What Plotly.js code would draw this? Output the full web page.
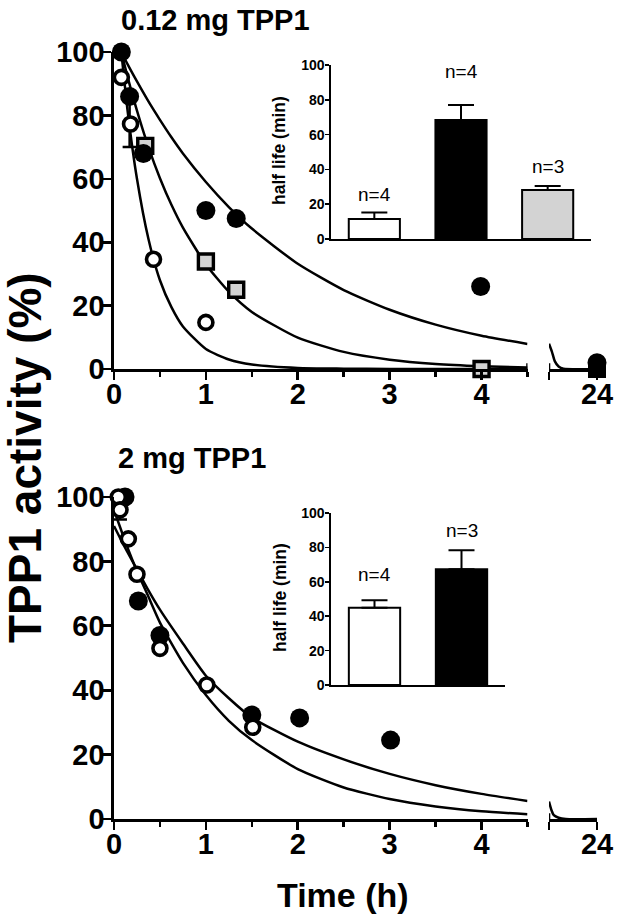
<!DOCTYPE html>
<html>
<head>
<meta charset="utf-8">
<script src="https://cdn.plot.ly/plotly-3.0.1.min.js"></script>
<style>html,body{margin:0;padding:0;background:#fff;}#chart{width:619px;height:922px;}</style>
</head>
<body>
<div id="chart"></div>
<script>
// ---------- Top panel: 0.12 mg TPP1 ----------
const topFilledTime = [0.08, 0.17, 0.32, 1.0, 1.33, 3.99];
const topFilledAct  = [100, 86, 68, 50, 47.5, 26];
const topFilledErrMinus = [0, 16, 0, 0, 0, 0];
const topOpenTime = [0.08, 0.18, 0.43, 1.0];
const topOpenAct  = [92, 77.3, 34.6, 14.7];
const topGreyTime = [0.34, 1.0, 1.33, 4.0];
const topGreyAct  = [70.4, 33.9, 25, 0];
const top24Time = [24];
const top24Filled = [2];
const top24Square = [0];

const topFitTime = [0.08, 0.15, 0.25, 0.375, 0.5, 0.625, 0.75, 1, 1.25, 1.5, 2, 2.5, 3, 3.5, 4, 4.5];
const topFitOpen   = [100, 81, 60, 41, 28, 19.5, 13.4, 6.3, 3, 1.4, 0.3, 0.1, 0, 0, 0, 0];
const topFitGrey   = [100, 91.9, 81.5, 70, 60.2, 51.8, 44.6, 33, 24.4, 18, 9.9, 5.4, 2.95, 1.6, 0.9, 0.5];
const topFitFilled = [100, 96, 90.7, 84.4, 78.6, 73.1, 68, 59, 51.1, 44.3, 33.2, 24.9, 18.7, 14, 10.5, 7.9];
const topTailTime = [23, 23.06, 23.12, 23.2, 23.3, 24];
const topTailAct  = [8, 5.5, 2.5, 0.8, 0.1, 0];

// ---------- Bottom panel: 2 mg TPP1 ----------
const botFilledTime = [0.12, 0.265, 0.5, 1.5, 2.02, 3.01];
const botFilledAct  = [100, 67.7, 57, 32.3, 31.4, 24.5];
const botOpenTime = [0.047, 0.065, 0.156, 0.25, 0.5, 1.01, 1.51];
const botOpenAct  = [100, 96, 87, 76, 53, 41.6, 28.5];
const botOpenErrMinus = [0, 3, 0, 0, 0, 0, 0];

const botFitTime = [0, 0.125, 0.25, 0.375, 0.5, 0.75, 1, 1.25, 1.5, 2, 2.5, 3, 3.5, 4, 4.5];
const botFitFilled = [91, 84, 77.5, 71, 65, 54.5, 44.5, 37.5, 31.5, 24, 18.5, 14, 10.5, 7.8, 5.6];
const botFitOpen   = [96, 86, 77, 69, 61, 48.5, 38.5, 30.5, 24.5, 15.5, 9.8, 6.2, 3.9, 2.4, 1.5];
const botTailTime = [23, 23.05, 23.1, 23.2, 23.35, 24];
const botTailAct  = [5.4, 2.8, 1.2, 0.4, 0, 0];

// ---------- Insets: half life (min) ----------
const topInsetGroups = [0, 1, 2];
const topInsetHalfLife = [11.5, 68.4, 28.2];
const topInsetErr = [3.8, 8.6, 2.3];
const topInsetN = ['n=4', 'n=4', 'n=3'];
const botInsetGroups = [0, 1];
const botInsetHalfLife = [44.9, 67.3];
const botInsetErr = [4.4, 11.0];
const botInsetN = ['n=4', 'n=3'];

const mainTicks = [0, 20, 40, 60, 80, 100];
const timeTicks = [0, 1, 2, 3, 4];
const timeMinor = [0.5, 1.5, 2.5, 3.5, 4.5];
const insetTicks = [0, 20, 40, 60, 80, 100];

// ---------- styling / layout ----------
const F = 'Arial, "Liberation Sans", Helvetica, sans-serif';
const W = 619, H = 922;
const px = v => v / W;
const py = v => (H - v) / H;
const barColors3 = ['#ffffff', '#000000', '#d3d3d3'];
const barColors2 = ['#ffffff', '#000000'];

function curve(x, y, xa, ya) {
  return {x, y, xaxis: xa, yaxis: ya, type: 'scatter', mode: 'lines',
    line: {color: '#000', width: 2.5, shape: 'spline', smoothing: 0.6},
    cliponaxis: false, hoverinfo: 'skip', showlegend: false};
}
function pts(x, y, xa, ya, kind, errMinus) {
  const m = kind === 'filled' ? {symbol: 'circle', size: 19, color: '#000', line: {width: 0}}
          : kind === 'open'   ? {symbol: 'circle', size: 14, color: '#fff', line: {color: '#000', width: 3.6}}
          : kind === 'square' ? {symbol: 'square', size: 18, color: '#000', line: {width: 0}}
          : {symbol: 'square', size: 15, color: '#d3d3d3', line: {color: '#000', width: 3.4}};
  const t = {x, y, xaxis: xa, yaxis: ya, type: 'scatter', mode: 'markers', marker: m,
    cliponaxis: false, showlegend: false, hoverinfo: 'skip'};
  if (errMinus) t.error_y = {type: 'data', symmetric: false, array: errMinus.map(() => 0),
    arrayminus: errMinus, color: '#000', thickness: 2.5, width: 7};
  return t;
}
function bars(x, y, err, colors, xa, ya) {
  return {x, y, xaxis: xa, yaxis: ya, type: 'bar', width: 0.59,
    marker: {color: colors, line: {color: '#000', width: 2}},
    error_y: {type: 'data', symmetric: false, array: err, arrayminus: err.map(() => 0),
      color: '#000', thickness: 2, width: 13},
    showlegend: false, hoverinfo: 'skip'};
}

const data = [
  // top main
  curve(topFitTime, topFitOpen, 'x', 'y'),
  curve(topFitTime, topFitGrey, 'x', 'y'),
  curve(topFitTime, topFitFilled, 'x', 'y'),
  curve(topTailTime, topTailAct, 'x2', 'y'),
  pts(topGreyTime, topGreyAct, 'x', 'y', 'grey'),
  pts(topFilledTime, topFilledAct, 'x', 'y', 'filled', topFilledErrMinus),
  pts(topOpenTime, topOpenAct, 'x', 'y', 'open'),
  pts(top24Time, top24Filled, 'x2', 'y', 'filled'),
  pts(top24Time, top24Square, 'x2', 'y', 'square'),
  // bottom main
  curve(botFitTime, botFitFilled, 'x3', 'y3'),
  curve(botFitTime, botFitOpen, 'x3', 'y3'),
  curve(botTailTime, botTailAct, 'x4', 'y3'),
  pts(botFilledTime, botFilledAct, 'x3', 'y3', 'filled'),
  pts(botOpenTime, botOpenAct, 'x3', 'y3', 'open', botOpenErrMinus),
  // insets
  bars(topInsetGroups, topInsetHalfLife, topInsetErr, barColors3, 'x5', 'y5'),
  bars(botInsetGroups, botInsetHalfLife, botInsetErr, barColors2, 'x6', 'y6')
];

const bigFont = {family: F, size: 29, color: '#000', weight: 'bold'};
const axBase = {showgrid: false, zeroline: false, showline: true, linecolor: '#000', linewidth: 2.6,
  ticks: 'outside', tickcolor: '#000', tickwidth: 2.6, ticklen: 8, tickfont: bigFont, fixedrange: true};
const xMain = (anchor) => Object.assign({}, axBase, {anchor, range: [0, 4.5], tickmode: 'array', tickvals: timeTicks,
  ticklabelstandoff: -10,
  minor: {tickmode: 'array', tickvals: timeMinor, ticks: 'outside', ticklen: 5, tickwidth: 2.6, tickcolor: '#000'},
  domain: [px(114), px(527.5)]});
const xSeg = (anchor) => Object.assign({}, axBase, {anchor, range: [23, 24], tickmode: 'array', tickvals: [23, 24],
  ticktext: ['', '24'], ticklabelstandoff: -10, domain: [px(549), px(597)]});
const yMain = (anchor, dom) => Object.assign({}, axBase, {anchor, range: [0, 100], tickmode: 'array',
  tickvals: mainTicks, ticklen: 9, ticklabelstandoff: -8, domain: dom});
const insetFont = {family: F, size: 14, color: '#000', weight: 'bold'};
const yInset = (anchor, dom) => ({anchor, domain: dom, range: [0, 100], tickmode: 'array', tickvals: insetTicks,
  showgrid: false, zeroline: false, showline: true, linecolor: '#000', linewidth: 1.6, ticks: 'outside',
  ticklen: 4, tickwidth: 1.6, tickcolor: '#000', tickfont: insetFont, ticklabelstandoff: -2, fixedrange: true});
const xInset = (anchor, dom, rng) => ({anchor, domain: dom, range: rng, showgrid: false, zeroline: false,
  showline: true, linecolor: '#000', linewidth: 1.6, ticks: '', showticklabels: false, fixedrange: true});

// axis-break marks (small upward ticks at segment ends)
const brk = (xref, yref, xv) => ({type: 'line', xref, yref, x0: xv, x1: xv, y0: 0, y1: 1.8,
  line: {color: '#000', width: 2.6}});
const shapes = [brk('x', 'y', 4.5), brk('x2', 'y', 23), brk('x4', 'y3', 23)];

const nLabelYTop = [25.5, 96, 41.5];
const nLabelYBot = [64, 90];
const annotations = [];
topInsetN.forEach((t, i) => annotations.push({text: t, x: topInsetGroups[i], y: nLabelYTop[i], xref: 'x5', yref: 'y5',
  showarrow: false, font: {family: F, size: 19, color: '#000'}}));
botInsetN.forEach((t, i) => annotations.push({text: t, x: botInsetGroups[i], y: nLabelYBot[i], xref: 'x6', yref: 'y6',
  showarrow: false, font: {family: F, size: 19, color: '#000'}}));
annotations.push(
  {text: '0.12 mg TPP1', xref: 'paper', yref: 'paper', x: px(119), y: py(20), xanchor: 'left', yanchor: 'middle',
   showarrow: false, font: {family: F, size: 29, color: '#000', weight: 'bold'}},
  {text: '2 mg TPP1', xref: 'paper', yref: 'paper', x: px(116), y: py(458), xanchor: 'left', yanchor: 'middle',
   showarrow: false, font: {family: F, size: 29, color: '#000', weight: 'bold'}},
  {text: 'TPP1 activity (%)', xref: 'paper', yref: 'paper', x: px(25), y: py(458), textangle: -90,
   xanchor: 'center', yanchor: 'middle', showarrow: false, font: {family: F, size: 46, color: '#000', weight: 'bold'}},
  {text: 'Time (h)', xref: 'paper', yref: 'paper', x: px(343), y: py(895), xanchor: 'center', yanchor: 'middle',
   showarrow: false, font: {family: F, size: 34, color: '#000', weight: 'bold'}},
  {text: 'half life (min)', xref: 'paper', yref: 'paper', x: px(279), y: py(151), textangle: -90,
   xanchor: 'center', yanchor: 'middle', showarrow: false, font: {family: F, size: 17.5, color: '#000', weight: 'bold'}},
  {text: 'half life (min)', xref: 'paper', yref: 'paper', x: px(280), y: py(598), textangle: -90,
   xanchor: 'center', yanchor: 'middle', showarrow: false, font: {family: F, size: 17.5, color: '#000', weight: 'bold'}}
);

const layout = {
  width: W, height: H, margin: {l: 0, r: 0, t: 0, b: 0},
  paper_bgcolor: '#fff', plot_bgcolor: 'rgba(0,0,0,0)', showlegend: false,
  font: {family: F, color: '#000'},
  xaxis: xMain('y'),
  xaxis2: xSeg('y'),
  yaxis: yMain('x', [py(369), py(52)]),
  xaxis3: xMain('y3'),
  xaxis4: xSeg('y3'),
  yaxis3: yMain('x3', [py(819), py(497)]),
  xaxis5: xInset('y5', [px(331), px(591)], [-0.5, 2.5]),
  yaxis5: yInset('x5', [py(239), py(65)]),
  xaxis6: xInset('y6', [px(331), px(505)], [-0.5, 1.5]),
  yaxis6: yInset('x6', [py(685), py(513)]),
  shapes,
  annotations
};

Plotly.newPlot('chart', data, layout, {staticPlot: true, displayModeBar: false});
</script>
</body>
</html>
